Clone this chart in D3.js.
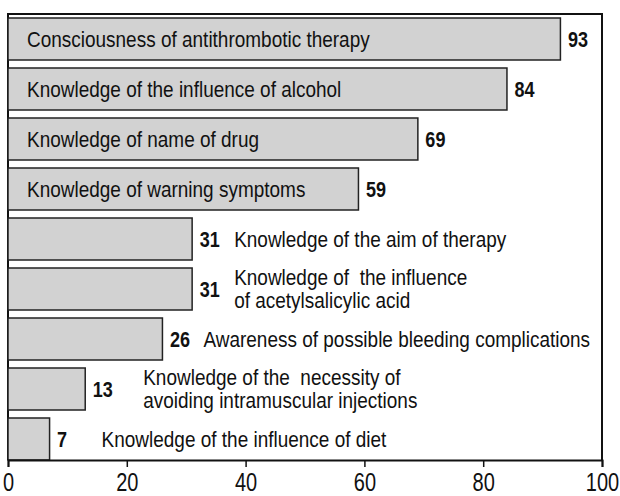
<!DOCTYPE html>
<html lang="en">
<head>
    <meta charset="UTF-8" />
    <title>Antithrombotic therapy knowledge</title>
    <script src="https://d3js.org/d3.v7.min.js"></script>
    <style>
        body { margin: 0; background: #fff; }
        text { font-family: "Liberation Sans", Arial, sans-serif; fill: #111; white-space: pre; }
        .bar { fill: #d2d2d2; stroke: #222; stroke-width: 1.5; }
        .val { font-weight: bold; font-size: 22px; }
        .lbl { font-size: 22px; }
        .tick text { font-size: 25px; }
    </style>
</head>
<body>
    <svg width="620" height="496"></svg>
    <script>
        const labels = [
            "Consciousness of antithrombotic therapy",
            "Knowledge of the influence of alcohol",
            "Knowledge of name of drug",
            "Knowledge of warning symptoms",
            "Knowledge of the aim of therapy",
            "Knowledge of  the influence\nof acetylsalicylic acid",
            "Awareness of possible bleeding complications",
            "Knowledge of the  necessity of\navoiding intramuscular injections",
            "Knowledge of the influence of diet"
        ];
        const values = [93, 84, 69, 59, 31, 31, 26, 13, 7];
        const xTicks = [0, 20, 40, 60, 80, 100];

        // gap between bar end and outside label (layout only)
        const outsideGap = [0, 0, 0, 0, 42, 42, 41, 58, 52];

        const svg = d3.select("svg");
        const plotTop = 14, plotBottom = 460, plotLeft = 8, plotRight = 602;
        // the original uses a condensed face; squeeze the sans horizontally
        const squeezeVal = 0.82, squeezeTick = 0.8;

        const x = d3.scaleLinear().domain([0, 100]).range([plotLeft, plotRight]);
        const y = d3.scaleBand()
            .domain(d3.range(values.length))
            .range([plotTop, plotTop + 450])
            .paddingInner(0.16)
            .paddingOuter(0.08);

        // frame: top, left and right lines
        svg.append("path")
            .attr("d", `M${plotLeft},${plotBottom}V${plotTop}H${plotRight}V${plotBottom}`)
            .attr("fill", "none")
            .attr("stroke", "#111")
            .attr("stroke-width", 2);

        svg.selectAll(".bar")
            .data(values)
            .enter()
            .append("rect")
            .attr("class", "bar")
            .attr("x", x(0))
            .attr("y", (d, i) => y(i))
            .attr("width", d => x(d) - x(0))
            .attr("height", y.bandwidth());

        svg.selectAll(".val")
            .data(values)
            .enter()
            .append("text")
            .attr("class", "val")
            .attr("transform", (d, i) =>
                `translate(${x(d) + 7.5},${y(i) + y.bandwidth() / 2}) scale(${squeezeVal},1)`)
            .attr("dy", "0.35em")
            .text(d => d);

        const lbl = svg.selectAll(".lbl")
            .data(labels)
            .enter()
            .append("text")
            .attr("class", "lbl");

        lbl.each(function(d) {
            const lines = d.split("\n");
            const t = d3.select(this);
            lines.forEach((line, k) => {
                t.append("tspan")
                    .attr("x", 0)
                    .attr("dy", k === 0 ? (0.35 - (lines.length - 1) * 0.52) + "em" : "1.02em")
                    .text(line);
            });
        });

        // width of the first label in the reference is about 343px
        const squeezeLbl = 343 / lbl.node().getComputedTextLength();

        lbl.attr("transform", (d, i) => {
            const lx = values[i] >= 50 ? x(0) + 19 : x(values[i]) + outsideGap[i];
            return `translate(${lx},${y(i) + y.bandwidth() / 2}) scale(${squeezeLbl},1)`;
        });

        const axis = svg.append("g")
            .attr("transform", `translate(0,${plotBottom})`)
            .call(d3.axisBottom(x).tickValues(xTicks).tickSize(7).tickPadding(6));
        axis.select(".domain").attr("stroke", "#111").attr("stroke-width", 2);
        axis.selectAll(".tick line").attr("stroke", "#111").attr("stroke-width", 1.5);
        axis.selectAll(".tick text")
            .attr("font-family", null)
            .attr("font-size", null)
            .attr("fill", "#111")
            .attr("transform", `scale(${squeezeTick},1)`);
    </script>
</body>
</html>
